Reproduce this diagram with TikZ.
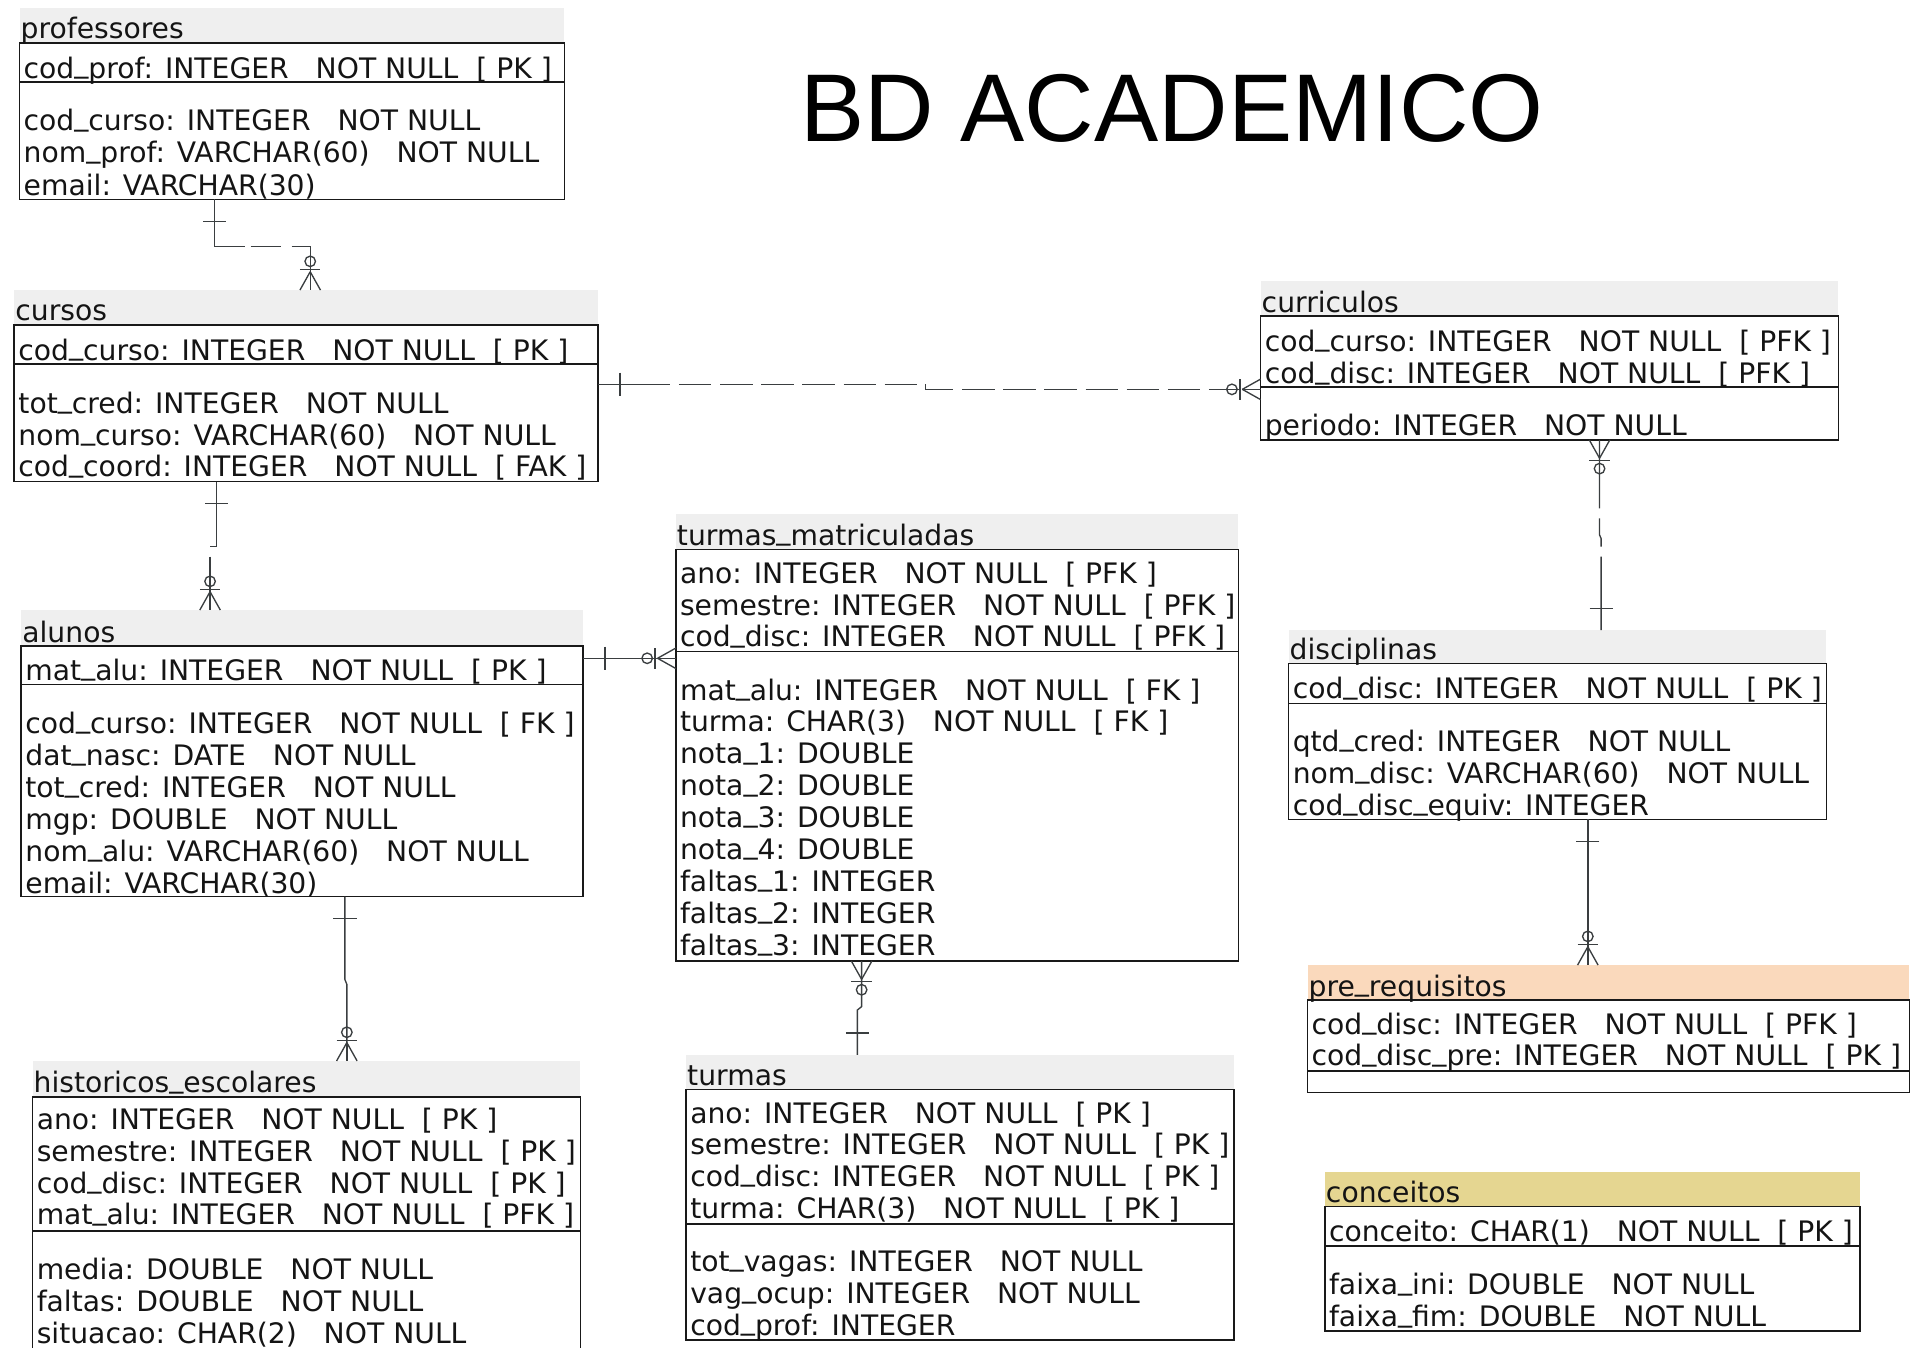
\documentclass[tikz,border=0pt]{standalone}
\usepackage{fontspec}
\newfontfamily\rowf{DejaVu Sans}
\newfontfamily\titf{Liberation Sans}
\usetikzlibrary{calc}
\definecolor{hdrgray}{RGB}{239,239,239}
\definecolor{hdrorange}{RGB}{250,217,188}
\definecolor{hdrkhaki}{RGB}{229,214,145}
\definecolor{relc}{RGB}{58,62,64}
\definecolor{boxc}{RGB}{25,25,25}
\definecolor{txtc}{RGB}{20,20,20}
\newcommand\us{\raisebox{0.2em}{\_}}
\tikzset{
 hdrbox/.style={anchor=north west, inner sep=0pt, outer sep=0pt, draw=none},
 tbox/.style={anchor=north west, inner sep=0pt, outer sep=0pt, draw=boxc, line width=0.65pt},
 tline/.style={draw=boxc, line width=0.65pt},
 rowtxt/.style={anchor=base west, inner sep=0pt, text=txtc, font=\rowf\fontsize{11.55}{14}\selectfont},
 rel/.style={draw=relc, line width=0.55pt},
}
% table: [fill] name L R hdrtop boxtop sep bottom title
\newcommand\enttable[9][hdrgray]{%
  \pgfmathsetmacro\tw{(#4-#3)*0.5}%
  \pgfmathsetmacro\hh{(#6-#5)*0.5}%
  \pgfmathsetmacro\bh{(#8-#6)*0.5}%
  \node[hdrbox, fill=#1, minimum width=\tw pt, minimum height=\hh pt] (#2-h) at (#3,#5) {};
  \node[tbox, minimum width=\tw pt, minimum height=\bh pt] (#2) at (#3,#6) {};
  \draw[tline] (#3,#7) -- (#4,#7);
  \node[rowtxt] (#2-t) at (#3+0.5,#6-3.2) {#9};
}
\newcommand\rw[4]{\node[rowtxt] (#1) at (#2,#3) {#4};}
% zero-or-many end: #1 end on entity, #2 point along the line
\newcommand\zmany[2]{%
  \coordinate (zm-a) at ($(#1)!7.5pt!(#2)$);
  \coordinate (zm-b) at ($(#1)!8.5pt!(#2)$);
  \coordinate (zm-c) at ($(#1)!11.75pt!(#2)$);
  \draw[rel] (zm-a) -- ($(#1)!4.2pt!90:(#2)$);
  \draw[rel] (zm-a) -- ($(#1)!4.2pt!-90:(#2)$);
  \draw[rel] (zm-a) -- (#1);
  \draw[rel] ($(zm-b)!4.2pt!90:(#2)$) -- ($(zm-b)!4.2pt!-90:(#2)$);
  \draw[rel] (zm-c) circle[radius=2.15pt];
}
% exactly-one end
\newcommand\one[2]{%
  \coordinate (on-a) at ($(#1)!9pt!(#2)$);
  \draw[rel] ($(on-a)!4.75pt!90:(#2)$) -- ($(on-a)!4.75pt!-90:(#2)$);
}
\begin{document}
\begin{tikzpicture}[x=0.5pt, y=-0.5pt]
\useasboundingbox (0,0) rectangle (1568,1103);
\clip (0,0) rectangle (1568,1103);

\node[anchor=base west, inner sep=0pt, font=\titf\fontsize{39.4}{41}\selectfont, text=black] (title) at (655,115.8) {BD ACADEMICO};

% professores
\enttable{prof}{16}{462.2}{6.8}{35}{66.9}{163.2}{professores}
\rw{prof1}{19}{64}{cod\us prof: INTEGER~~~NOT NULL~~[ PK ]}
\rw{prof2}{19}{107}{cod\us curso: INTEGER~~~NOT NULL}
\rw{prof3}{19}{133.4}{nom\us prof: VARCHAR(60)~~~NOT NULL}
\rw{prof4}{19}{159.7}{email: VARCHAR(30)}

% cursos
\enttable{cursos}{11.7}{489.6}{237.5}{266}{298}{394.4}{cursos}
\rw{cur1}{14.7}{294.8}{cod\us curso: INTEGER~~~NOT NULL~~[ PK ]}
\rw{cur2}{14.7}{338.4}{tot\us cred: INTEGER~~~NOT NULL}
\rw{cur3}{14.7}{364.4}{nom\us curso: VARCHAR(60)~~~NOT NULL}
\rw{cur4}{14.7}{390.3}{cod\us coord: INTEGER~~~NOT NULL~~[ FAK ]}

% curriculos
\enttable{curr}{1032.2}{1505.3}{230.3}{258.8}{316.7}{360.2}{curriculos}
\rw{curr1}{1035.2}{287.6}{cod\us curso: INTEGER~~~NOT NULL~~[ PFK ]}
\rw{curr2}{1035.2}{314.2}{cod\us disc: INTEGER~~~NOT NULL~~[ PFK ]}
\rw{curr3}{1035.2}{356.4}{periodo: INTEGER~~~NOT NULL}

% alunos
\enttable{alunos}{17.4}{477.3}{499.5}{529}{560.3}{734.2}{alunos}
\rw{alu1}{20.4}{556.8}{mat\us alu: INTEGER~~~NOT NULL~~[ PK ]}
\rw{alu2}{20.4}{600.4}{cod\us curso: INTEGER~~~NOT NULL~~[ FK ]}
\rw{alu3}{20.4}{626.6}{dat\us nasc: DATE~~~NOT NULL}
\rw{alu4}{20.4}{652.8}{tot\us cred: INTEGER~~~NOT NULL}
\rw{alu5}{20.4}{679}{mgp: DOUBLE~~~NOT NULL}
\rw{alu6}{20.4}{705.2}{nom\us alu: VARCHAR(60)~~~NOT NULL}
\rw{alu7}{20.4}{731.4}{email: VARCHAR(30)}

% turmas_matriculadas
\enttable{tm}{553.4}{1014}{421.1}{449.8}{533.6}{786.9}{turmas\us matriculadas}
\rw{tm1}{556.4}{477.6}{ano: INTEGER~~~NOT NULL~~[ PFK ]}
\rw{tm2}{556.4}{503.6}{semestre: INTEGER~~~NOT NULL~~[ PFK ]}
\rw{tm3}{556.4}{529.5}{cod\us disc: INTEGER~~~NOT NULL~~[ PFK ]}
\rw{tm4}{556.4}{573.2}{mat\us alu: INTEGER~~~NOT NULL~~[ FK ]}
\rw{tm5}{556.4}{599.3}{turma: CHAR(3)~~~NOT NULL~~[ FK ]}
\rw{tm6}{556.4}{625.4}{nota\us 1: DOUBLE}
\rw{tm7}{556.4}{651.5}{nota\us 2: DOUBLE}
\rw{tm8}{556.4}{677.6}{nota\us 3: DOUBLE}
\rw{tm9}{556.4}{703.7}{nota\us 4: DOUBLE}
\rw{tm10}{556.4}{729.8}{faltas\us 1: INTEGER}
\rw{tm11}{556.4}{755.9}{faltas\us 2: INTEGER}
\rw{tm12}{556.4}{782}{faltas\us 3: INTEGER}

% disciplinas
\enttable{disc}{1055.1}{1495.4}{516}{543.2}{576.1}{670.9}{disciplinas}
\rw{disc1}{1058.1}{572.3}{cod\us disc: INTEGER~~~NOT NULL~~[ PK ]}
\rw{disc2}{1058.1}{615.2}{qtd\us cred: INTEGER~~~NOT NULL}
\rw{disc3}{1058.1}{641.6}{nom\us disc: VARCHAR(60)~~~NOT NULL}
\rw{disc4}{1058.1}{667.7}{cod\us disc\us equiv: INTEGER}

% pre_requisitos
\enttable[hdrorange]{pre}{1070.6}{1563.4}{790.2}{818.8}{876.7}{894.4}{pre\us requisitos}
\rw{pre1}{1073.6}{846.9}{cod\us disc: INTEGER~~~NOT NULL~~[ PFK ]}
\rw{pre2}{1073.6}{872.8}{cod\us disc\us pre: INTEGER~~~NOT NULL~~[ PK ]}

% historicos_escolares
\enttable{hist}{26.7}{475.2}{868.7}{898}{1008}{1115}{historicos\us escolares}
\rw{hist1}{29.7}{925.2}{ano: INTEGER~~~NOT NULL~~[ PK ]}
\rw{hist2}{29.7}{951.2}{semestre: INTEGER~~~NOT NULL~~[ PK ]}
\rw{hist3}{29.7}{977.1}{cod\us disc: INTEGER~~~NOT NULL~~[ PK ]}
\rw{hist4}{29.7}{1003}{mat\us alu: INTEGER~~~NOT NULL~~[ PFK ]}
\rw{hist5}{29.7}{1048}{media: DOUBLE~~~NOT NULL}
\rw{hist6}{29.7}{1074}{faltas: DOUBLE~~~NOT NULL}
\rw{hist7}{29.7}{1100}{situacao: CHAR(2)~~~NOT NULL}

% turmas
\enttable{turmas}{561.8}{1010.3}{863.8}{892}{1002.2}{1097.2}{turmas}
\rw{tur1}{564.8}{919.8}{ano: INTEGER~~~NOT NULL~~[ PK ]}
\rw{tur2}{564.8}{945.7}{semestre: INTEGER~~~NOT NULL~~[ PK ]}
\rw{tur3}{564.8}{971.6}{cod\us disc: INTEGER~~~NOT NULL~~[ PK ]}
\rw{tur4}{564.8}{997.6}{turma: CHAR(3)~~~NOT NULL~~[ PK ]}
\rw{tur5}{564.8}{1041.2}{tot\us vagas: INTEGER~~~NOT NULL}
\rw{tur6}{564.8}{1067.2}{vag\us ocup: INTEGER~~~NOT NULL}
\rw{tur7}{564.8}{1093.1}{cod\us prof: INTEGER}

% conceitos
\enttable[hdrkhaki]{conc}{1084.8}{1522.9}{959.4}{988}{1020}{1089.8}{conceitos}
\rw{conc1}{1087.8}{1016.7}{conceito: CHAR(1)~~~NOT NULL~~[ PK ]}
\rw{conc2}{1087.8}{1060.3}{faixa\us ini: DOUBLE~~~NOT NULL}
\rw{conc3}{1087.8}{1086.3}{faixa\us fim: DOUBLE~~~NOT NULL}

% ---------- connectors ----------
% professores -> cursos
\coordinate (x1a) at (175.5,0); \coordinate (x1b) at (254,0);
\coordinate (c1s) at (prof.south -| x1a);
\coordinate (c1a) at (175.5,202);
\coordinate (c1b) at (254,202);
\coordinate (c1e) at (cursos-h.north -| x1b);
\draw[rel, dash pattern=on 31.75pt off 2.5pt on 12.5pt off 4.25pt on 60pt off 0pt] (c1s) -- (c1a) -- (c1b) -- (c1e);
\one{c1s}{c1a}
\zmany{c1e}{c1b}

% cursos -> curriculos
\coordinate (y2a) at (0,314.7); \coordinate (y2b) at (0,318.8);
\coordinate (c2s) at (cursos.east |- y2a);
\coordinate (c2m) at (548.8,314.7);
\coordinate (c2j1) at (758,314.7);
\coordinate (c2j2) at (758,318.8);
\coordinate (c2e) at (curr.west |- y2b);
\draw[rel, dash pattern=on 13.3pt off 3.55pt, dash phase=0.55pt] (c2s) -- (c2j1) -- (c2j2) -- (c2e);
\draw[rel] (c2s) -- (c2m);
\one{c2s}{c2j1}
\zmany{c2e}{c2j2}

% cursos -> alunos
\coordinate (x3a) at (177.1,0); \coordinate (x3b) at (172,0);
\coordinate (c3s) at (cursos.south -| x3a);
\coordinate (c3a) at (177.1,447.6);
\coordinate (c3b) at (172,447.6);
\coordinate (c3e) at (alunos-h.north -| x3b);
\draw[rel, dash pattern=on 29.1pt off 4.1pt on 40pt off 0pt] (c3s) -- (c3a) -- (c3b) -- (c3e);
\one{c3s}{c3a}
\zmany{c3e}{c3b}

% alunos -> turmas_matriculadas
\coordinate (y4) at (0,539);
\coordinate (c4s) at (alunos.east |- y4);
\coordinate (c4e) at (tm.west |- y4);
\draw[rel] (c4s) -- (c4e);
\one{c4s}{c4e}
\zmany{c4e}{c4s}

% alunos -> historicos_escolares
\coordinate (x5a) at (282.4,0); \coordinate (x5b) at (284,0);
\coordinate (c5s) at (alunos.south -| x5a);
\coordinate (c5a) at (282.4,802);
\coordinate (c5b) at (284,806);
\coordinate (c5e) at (hist-h.north -| x5b);
\draw[rel] (c5s) -- (c5a) -- (c5b) -- (c5e);
\one{c5s}{c5a}
\zmany{c5e}{c5b}

% turmas -> turmas_matriculadas
\coordinate (x6a) at (705.5,0); \coordinate (x6b) at (702,0);
\coordinate (c6s) at (tm.south -| x6a);
\coordinate (c6a) at (705.5,824.2);
\coordinate (c6b) at (702,827);
\coordinate (c6e) at (turmas-h.north -| x6b);
\draw[rel] (c6s) -- (c6a) -- (c6b) -- (c6e);
\zmany{c6s}{c6a}
\one{c6e}{c6b}

% curriculos -> disciplinas
\coordinate (x7a) at (1309.7,0); \coordinate (x7b) at (1311,0);
\coordinate (c7s) at (curr.south -| x7a);
\coordinate (c7a) at (1309.7,438);
\coordinate (c7b) at (1311,441);
\coordinate (c7e) at (disc-h.north -| x7b);
\draw[rel, dash pattern=on 28pt off 4.1pt on 11.7pt off 4.1pt on 40pt off 0pt] (c7s) -- (c7a) -- (c7b) -- (c7e);
\zmany{c7s}{c7a}
\one{c7e}{c7b}

% disciplinas -> pre_requisitos
\coordinate (x8) at (1300.1,0);
\coordinate (c8s) at (disc.south -| x8);
\coordinate (c8e) at (pre-h.north -| x8);
\draw[rel] (c8s) -- (c8e);
\one{c8s}{c8e}
\zmany{c8e}{c8s}
\end{tikzpicture}
\end{document}
